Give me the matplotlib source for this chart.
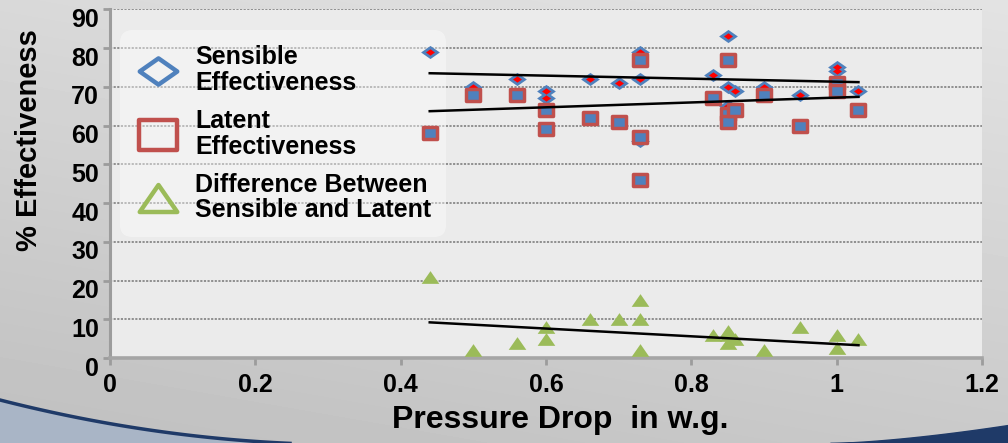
import numpy as np
import matplotlib
matplotlib.use('Agg')
import matplotlib.pyplot as plt
from matplotlib.lines import Line2D
from matplotlib.path import Path
from matplotlib.transforms import ScaledTranslation

plt.rcParams['font.family'] = ['Liberation Sans', 'DejaVu Sans']
plt.rcParams['font.weight'] = 'bold'

# pressure drop (in w.g.) and effectiveness values
pressure = [0.44, 0.50, 0.56, 0.60, 0.60, 0.66, 0.70, 0.73, 0.73, 0.73,
            0.83, 0.85, 0.85, 0.85, 0.86, 0.90, 0.95, 1.00, 1.00, 1.03]
sensible = [79, 70, 72, 69, 67, 72, 71, 79, 72, 56,
            73, 83, 70, 65, 69, 70, 68, 75, 74, 69]
latent = [58, 68, 68, 64, 59, 62, 61, 77, 57, 46,
          67, 77, 63, 61, 64, 68, 60, 71, 69, 64]
difference = [21, 2, 4, 5, 8, 10, 10, 2, 15, 10,
              6, 6, 7, 4, 5, 2, 8, 6, 2.5, 5]

# trendline ends as drawn on the chart
trend_x = [0.44, 1.03]
sensible_trend = [73.5, 71.2]
latent_trend = [63.7, 67.4]
difference_trend = [9.2, 3.3]

x_ticks = [0, 0.2, 0.4, 0.6, 0.8, 1.0, 1.2]
x_tick_labels = ['0', '0.2', '0.4', '0.6', '0.8', '1', '1.2']
y_ticks = [0, 10, 20, 30, 40, 50, 60, 70, 80, 90]
legend_labels = ['Sensible\nEffectiveness', 'Latent\nEffectiveness',
                 'Difference Between\nSensible and Latent']

BLUE = '#4f81bd'
RED = '#c0504d'
GREEN = '#9bbb59'

# wide marker shapes like the office chart
diamond = Path([(-1, 0), (0, 0.7), (1, 0), (0, -0.7), (-1, 0)], closed=True)
rect = Path([(-1, -0.8), (1, -0.8), (1, 0.8), (-1, 0.8), (-1, -0.8)], closed=True)
tri = Path([(-1, -0.72), (1, -0.72), (0, 0.72), (-1, -0.72)], closed=True)

fig = plt.figure(figsize=(10.08, 4.43), dpi=100)

# slide background
bg = fig.add_axes([0, 0, 1, 1], zorder=-10)
bg.set_xlim(0, 1008)
bg.set_ylim(443, 0)
bg.axis('off')
yy, xx = np.mgrid[0:443, 0:1008]
shade = 0.89 - 0.10 * yy / 443 - 0.04 * (1 - xx / 1008)
bg.imshow(shade, cmap='gray', vmin=0, vmax=1, extent=(0, 1008, 443, 0), aspect='auto')
sx = np.linspace(0, 290, 60)
sy = 400 + 0.2551 * sx - 0.000364 * sx ** 2
bg.fill_between(sx, sy, 443, color='#a9b5c6')
bg.plot(sx, sy, color='#1f3a68', lw=2.5)
rx = np.linspace(830, 1008, 40)
ry = 443 - 18 * ((rx - 830) / 178) ** 1.5
bg.fill_between(rx, ry, 443, color='#1f3a68')

ax = fig.add_axes([110 / 1008, 85 / 443, 872 / 1008, 348.7 / 443])
ax.set_facecolor('#ebebeb')
ax.set_xlim(0, 1.2)
ax.set_ylim(0, 90)
ax.set_xticks(x_ticks)
ax.set_xticklabels(x_tick_labels)
ax.set_yticks(y_ticks)
ax.yaxis.grid(True, color='#888888', linestyle=(0, (1.2, 0.8)), linewidth=1.3)
ax.set_axisbelow(True)
for s in ['top', 'right']:
    ax.spines[s].set_visible(False)
ax.spines['left'].set_color('#9c9c9c')
ax.spines['left'].set_linewidth(2.2)
ax.spines['bottom'].set_color('#a5a5a5')
ax.spines['bottom'].set_linewidth(2.6)
ax.tick_params(axis='both', colors='#9c9c9c', labelcolor='black', labelsize=18,
               width=2, length=5)
ax.tick_params(axis='x', pad=6)
ax.tick_params(axis='y', pad=3)

ax.plot(pressure, sensible, ls='none', marker=diamond, ms=13.5, mfc=BLUE, mec='none', zorder=3)
ax.plot(pressure, sensible, ls='none', marker=diamond, ms=6.5, mfc='#ff0000', mec='none', zorder=3.1)
ax.plot(pressure, latent, ls='none', marker=rect, ms=10, mfc=BLUE, mec=RED, mew=2.5, zorder=4)
ax.plot(pressure, difference, ls='none', marker=tri, ms=12.7, mfc=GREEN, mec='none', zorder=4)

for vals in (sensible_trend, latent_trend, difference_trend):
    ax.plot(trend_x, vals, color='black', lw=1.8, zorder=5)

handles = [
    Line2D([], [], ls='none', marker=diamond, ms=27, mfc='none', mec=BLUE, mew=3.2),
    Line2D([], [], ls='none', marker=rect, ms=27, mfc='none', mec=RED, mew=3.2),
    Line2D([], [], ls='none', marker=tri, ms=27, mfc='none', mec=GREEN, mew=3.2),
]
leg = ax.legend(handles, legend_labels, loc='upper left', bbox_to_anchor=(0.0115, 0.94),
                borderaxespad=0, prop={'size': 18, 'weight': 'bold'}, handlelength=1.8,
                handletextpad=0.6, borderpad=0.6, labelspacing=0.55, frameon=True,
                fancybox=True, facecolor='white', framealpha=0.4, edgecolor='none')
for t in leg.get_texts():
    t.set_linespacing(1.1)
leg.get_frame().set_boxstyle('round', pad=0, rounding_size=0.5)
leg.set_zorder(2.5)

ax.set_xlabel('Pressure Drop  in w.g.', fontsize=23, fontweight='bold')
ax.xaxis.set_label_coords(0.516, -0.135)
ax.set_ylabel('% Effectiveness', fontsize=21, fontweight='bold')
ax.yaxis.set_label_coords(-0.077, 0.624)

for lab in ax.get_yticklabels():
    lab.set_transform(lab.get_transform() + ScaledTranslation(0, -8 / 100, fig.dpi_scale_trans))

fig.savefig('out.png', dpi=100)
